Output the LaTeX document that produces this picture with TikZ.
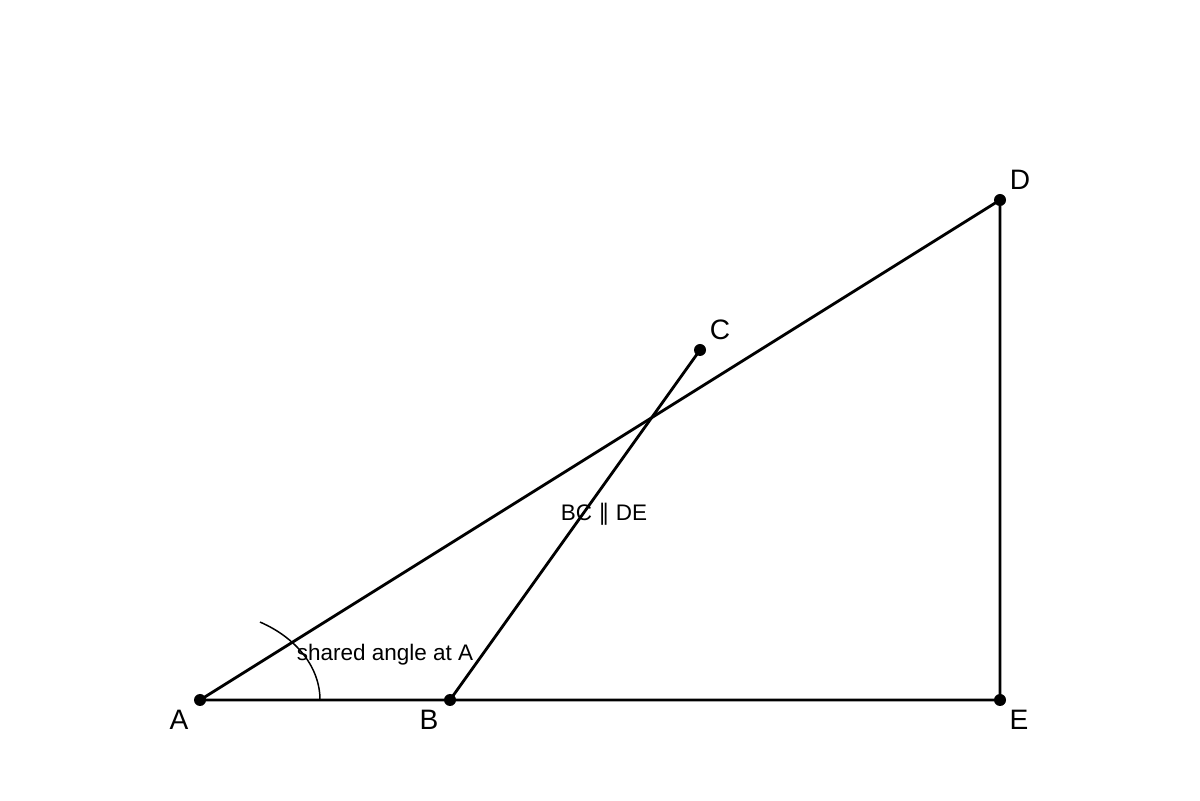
\documentclass[tikz,border=0pt]{standalone}
\usepackage{fontspec}
\setmainfont{Liberation Sans}
\newfontfamily\symfont{DejaVu Sans}
\usetikzlibrary{positioning, calc}

\tikzset{
  ptdot/.style={circle, fill=black, inner sep=0pt, minimum size=0.24cm},
  ptlabel/.style={font=\fontsize{16}{19}\selectfont},
  notelabel/.style={font=\fontsize{12.8}{15}\selectfont, inner sep=0pt},
  seg/.style={line width=1.6pt}
}

\begin{document}
\begin{tikzpicture}
\useasboundingbox (0,0) rectangle (24,16);

% points
\node[ptdot] (A) at (4,2) {};
\node[ptdot] (B) at (9,2) {};
\node[ptdot] (E) at (20,2) {};
\node[ptdot] (D) at (20,12) {};
\node[ptdot] (C) at (14,9) {};

% labels
\node[ptlabel] (lA) at (3.58,1.6) {A};
\node[ptlabel] (lB) at (8.58,1.6) {B};
\node[ptlabel] (lE) at (20.38,1.6) {E};
\node[ptlabel] (lD) at (20.4,12.4) {D};
\node[ptlabel] (lC) at (14.4,9.4) {C};

% segments
\draw[seg] (A.center) -- (E.center) -- (D.center) -- cycle;
\draw[seg] (B.center) -- (C.center);

% angle mark
\draw[line width=0.85pt] ($(A.center)+(2.4,0)$) arc[start angle=0, end angle=60, x radius=2.4, y radius=1.8];

\node[notelabel] (ang) at (7.7,2.9) {shared angle at A};
\node[notelabel] (par) at (12.08,5.72) {BC {\symfont ∥} DE};
\end{tikzpicture}
\end{document}
